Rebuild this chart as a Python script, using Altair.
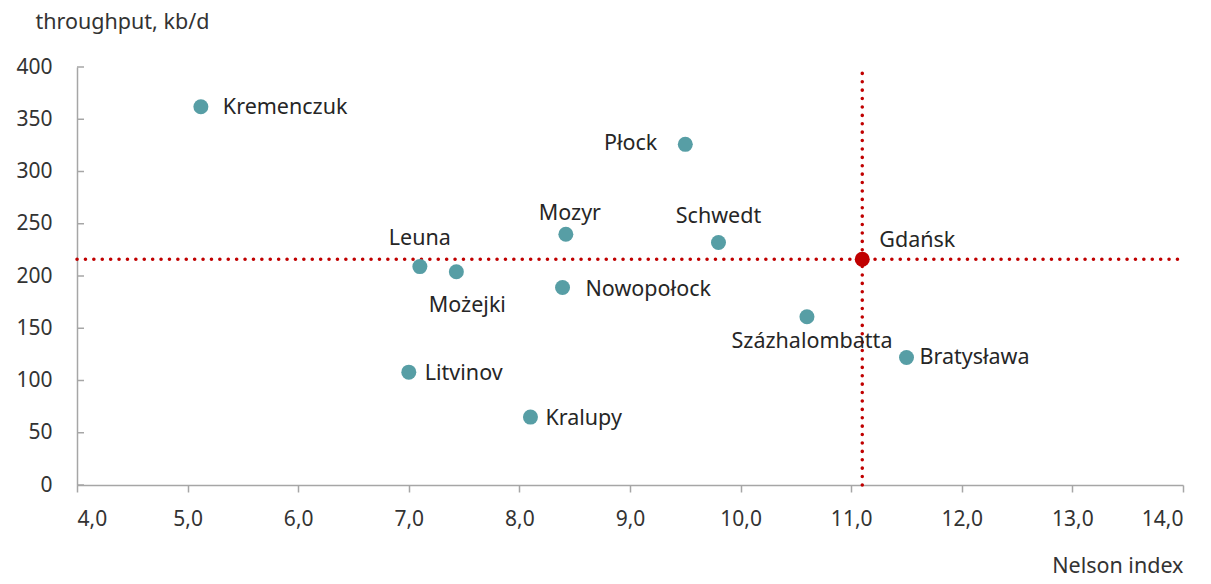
import altair as alt
import pandas as pd

names = ["Kremenczuk", "Płock", "Mozyr", "Schwedt", "Gdańsk", "Leuna", "Możejki",
         "Nowopołock", "Százhalombatta", "Bratysława", "Litvinov", "Kralupy"]
nelson = [5.12, 9.5, 8.42, 9.8, 11.1, 7.1, 7.43, 8.39, 10.6, 11.5, 7.0, 8.1]
throughput = [362, 326, 240, 232, 216, 209, 204, 189, 161, 122, 108, 65]
highlight = ["Gdańsk"]
y_ticks = [0, 50, 100, 150, 200, 250, 300, 350, 400]
x_ticks = [4, 5, 6, 7, 8, 9, 10, 11, 12, 13, 14]
ref_x = 11.1
ref_y = 216

# label offsets (dx, dy, align) in pixels
label_pos = {
    "Kremenczuk": (22, 1, "left"),
    "Płock": (-28, 0, "right"),
    "Mozyr": (4, -20, "center"),
    "Schwedt": (0, -26, "center"),
    "Gdańsk": (17, -18, "left"),
    "Leuna": (0, -28, "center"),
    "Możejki": (11, 34, "center"),
    "Nowopołock": (23, 3, "left"),
    "Százhalombatta": (5, 25, "center"),
    "Bratysława": (13, 0, "left"),
    "Litvinov": (16, 2, "left"),
    "Kralupy": (15, 2, "left"),
}

df = pd.DataFrame({"name": names, "x": nelson, "y": throughput})
df["hl"] = df["name"].isin(highlight)
FONT = "Noto Sans"
W, H = 1106, 418
TXT = 21.5
TICK = 21

xs = alt.Scale(domain=[4, 14], nice=False, zero=False)
ys = alt.Scale(domain=[0, 400], nice=False)

base = alt.Chart(df)

points = base.mark_circle(size=225, opacity=1).encode(
    x=alt.X("x:Q", scale=xs, axis=alt.Axis(
        values=x_ticks, format=".1f",
        labelExpr="replace(datum.label, '.', ',')",
        grid=False, domainColor="#A6A6A6", domainWidth=1.5, tickColor="#A6A6A6",
        tickWidth=1.5, tickSize=7, labelPadding=16, labelFontSize=TICK, labelFont=FONT,
        labelColor="#333333", title="Nelson index", titleFont=FONT, titleFontSize=TXT,
        titleFontWeight="normal", titleColor="#333333", titleAnchor="end", titleAlign="right",
        titleX=W, titleY=81, titleBaseline="middle")),
    y=alt.Y("y:Q", scale=ys, axis=alt.Axis(
        values=y_ticks, grid=False, ticks=False, domainColor="#A6A6A6", domainWidth=1.5,
        labelPadding=25, labelFontSize=TICK, labelFont=FONT, labelColor="#333333",
        title="throughput, kb/d", titleAngle=0, titleAlign="left", titleBaseline="middle",
        titleX=-42, titleY=-45, titleFont=FONT, titleFontSize=TXT, titleFontWeight="normal",
        titleColor="#333333")),
    color=alt.Color("hl:N", scale=alt.Scale(domain=[False, True], range=["#579EA5", "#C00000"]),
                    legend=None),
)

ytick_df = pd.DataFrame({"v": y_ticks})
yticks = alt.Chart(ytick_df).mark_rule(color="#A6A6A6", strokeWidth=1.5).encode(
    y=alt.Y("v:Q", scale=ys), x=alt.value(0), x2=alt.value(7))

hline = alt.Chart(pd.DataFrame({"y": [ref_y], "x1": [4], "x2": [14]})).mark_rule(
    color="#C00000", strokeWidth=3.5, strokeDash=[0.1, 8.3], strokeCap="round").encode(
    y=alt.Y("y:Q", scale=ys), x=alt.X("x1:Q", scale=xs), x2="x2:Q")
vline = alt.Chart(pd.DataFrame({"x": [ref_x], "y1": [0], "y2": [400]})).mark_rule(
    color="#C00000", strokeWidth=3.5, strokeDash=[0.1, 8.3], strokeCap="round").encode(
    x=alt.X("x:Q", scale=xs), y=alt.Y("y1:Q", scale=ys), y2="y2:Q")

labels = []
for n in names:
    dx, dy, al = label_pos[n]
    labels.append(base.transform_filter(alt.datum.name == n).mark_text(
        dx=dx, dy=dy, align=al, baseline="middle", font=FONT, fontSize=TXT, color="#262626"
    ).encode(x=alt.X("x:Q", scale=xs), y=alt.Y("y:Q", scale=ys), text="name:N"))

chart = alt.layer(hline, vline, yticks, points, *labels).properties(
    width=W, height=H,
    autosize=alt.AutoSizeParams(type="none"),
    padding={"left": 69, "top": 59, "right": 20, "bottom": 91},
).configure_view(stroke=None)

chart.save("out.html", embed_options={"renderer": "svg", "actions": False})
